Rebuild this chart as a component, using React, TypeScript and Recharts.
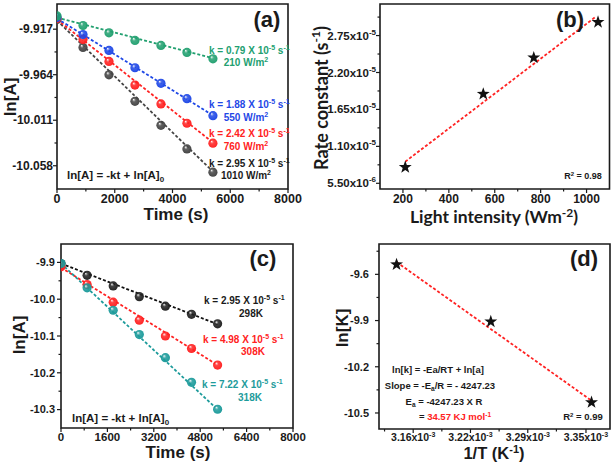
import React from "react";
import { ComposedChart, Scatter, Line, XAxis, YAxis, ReferenceArea } from "recharts";

// (a) ln[A] vs time at four light intensities
const timesA = [0, 900, 1800, 2700, 3600, 4500, 5400];
const lnA210 = [-9.9033, -9.9132, -9.9208, -9.9286, -9.9338, -9.941, -9.9476];
const lnA550 = [-9.905, -9.9225, -9.9389, -9.9568, -9.9729, -9.9887, -10.0063];
const lnA760 = [-9.906, -9.9276, -9.9503, -9.9747, -9.9942, -10.0141, -10.0347];
const lnA1010 = [-9.907, -9.9358, -9.9641, -9.9915, -10.0163, -10.0406, -10.0646];
const fitTimes = [0, 5400];
const fitA210 = [-9.905, -9.947];
const fitA550 = [-9.906, -10.006];
const fitA760 = [-9.907, -10.034];
const fitA1010 = [-9.908, -10.064];
const aXTicks = [0, 2000, 4000, 6000, 8000];
const aXMinor = [1000, 3000, 5000, 7000];
const aYTicks = [-10.058, -10.011, -9.964, -9.917];
const aYMinor = [-10.0345, -9.9875, -9.9405];

// (b) rate constant vs light intensity
const intensity = [210, 550, 770, 1050];
const rateK = [0.79e-5, 1.88e-5, 2.42e-5, 2.95e-5];
const fitIntensity = [210, 1040];
const fitRateK = [0.872e-5, 3.03e-5];
const bXTicks = [200, 400, 600, 800, 1000];
const bXMinor = [300, 500, 700, 900];
const bYTicks = [5.5e-6, 1.1e-5, 1.65e-5, 2.2e-5, 2.75e-5];
const bYMantissa = ["5.50", "1.10", "1.65", "2.20", "2.75"];
const bYExponent = ["-6", "-5", "-5", "-5", "-5"];
const bYMinor = [8.25e-6, 1.375e-5, 1.925e-5, 2.475e-5, 3.025e-5];

// (c) ln[A] vs time at three temperatures
const timesC = [0, 900, 1800, 2700, 3600, 4500, 5400];
const lnC298 = [-9.903, -9.935, -9.964, -9.993, -10.019, -10.041, -10.067];
const lnC308 = [-9.912, -9.96, -10.008, -10.057, -10.1, -10.134, -10.179];
const lnC318 = [-9.903, -9.969, -10.03, -10.096, -10.159, -10.226, -10.299];
const fitC298 = [-9.903, -10.068];
const fitC308 = [-9.914, -10.179];
const fitC318 = [-9.903, -10.3];
const cXTicks = [0, 1600, 3200, 4800, 6400, 8000];
const cXMinor = [800, 2400, 4000, 5600, 7200];
const cYTicks = [-10.3, -10.2, -10.1, -10.0, -9.9];
const cYMinor = [-10.25, -10.15, -10.05, -9.95];

// (d) Arrhenius plot, 1/T in units of 10^-3 K^-1
const invT = [3.145, 3.247, 3.356];
const lnK = [-9.536, -9.907, -10.431];
const fitInvT = [3.145, 3.356];
const fitLnK = [-9.52, -10.42];
const dXTicks = [3.163, 3.225, 3.287, 3.35];
const dXLabels = ["3.16", "3.22", "3.29", "3.35"];
const dXMinor = [3.132, 3.194, 3.256, 3.318];
const dYTicks = [-10.5, -10.2, -9.9, -9.6];
const dYMinor = [-10.35, -10.05, -9.75, -9.45];

const ARIAL = "'Liberation Sans', Arial, sans-serif";
const CALIBRI = "Lato, 'Open Sans', sans-serif";
const INK = "#1a1a1a";

const GREEN = "#22a070";
const BLUE = "#1f48e6";
const RED = "#ff2222";
const GREY = "#444444";
const TEAL = "#1d9b9b";

const pts = (xs: number[], ys: number[]) => xs.map((x, i) => ({ x, y: ys[i] }));

const isMajor = (list: number[], v: number) => list.some((m) => Math.abs(m - v) < 1e-12);

function xTick(majors: number[], fmt: (v: number) => React.ReactNode, fontSize: number) {
  return (p: any) => {
    const v = p.payload.value;
    const major = isMajor(majors, v);
    return (
      <g>
        <line x1={p.x} x2={p.x} y1={p.y} y2={p.y + (major ? 4 : 2.5)} stroke={INK} strokeWidth={1.2} />
        {major && (
          <text x={p.x} y={p.y + 4} dy="0.8em" textAnchor="middle" fontSize={fontSize} fontWeight="bold" fontFamily={ARIAL} fill={INK}>
            {fmt(v)}
          </text>
        )}
      </g>
    );
  };
}

function yTick(majors: number[], fmt: (v: number) => React.ReactNode, fontSize: number, gap: number) {
  return (p: any) => {
    const v = p.payload.value;
    const major = isMajor(majors, v);
    return (
      <g>
        <line x1={p.x} x2={p.x - (major ? 4 : 2.5)} y1={p.y} y2={p.y} stroke={INK} strokeWidth={1.2} />
        {major && (
          <text x={p.x - gap} y={p.y} dy="0.35em" textAnchor="end" fontSize={fontSize} fontWeight="bold" fontFamily={ARIAL} fill={INK}>
            {fmt(v)}
          </text>
        )}
      </g>
    );
  };
}

function Sphere(props: any) {
  const { cx, cy, grad } = props;
  if (cx == null || cy == null) return <g />;
  return <circle cx={cx} cy={cy} r={4.6} fill={`url(#${grad})`} stroke="none" />;
}

function Star(props: any) {
  const { cx, cy } = props;
  if (cx == null || cy == null) return <g />;
  const outer = 6.8;
  const inner = 2.7;
  const p: string[] = [];
  for (let i = 0; i < 10; i++) {
    const r = i % 2 === 0 ? outer : inner;
    const a = -Math.PI / 2 + (i * Math.PI) / 5;
    p.push(`${cx + r * Math.cos(a)},${cy + r * Math.sin(a)}`);
  }
  return <polygon points={p.join(" ")} fill="#111" />;
}

const sphere = (grad: string) => (p: any) => <Sphere {...p} grad={grad} />;

function Frame({ x, y }: { x: number[]; y: number[] }) {
  return (
    <ReferenceArea x1={x[0]} x2={x[1]} y1={y[0]} y2={y[1]} fill="none" stroke={INK} strokeWidth={1.6} ifOverflow="visible" />
  );
}

function Fit({ xs, ys, color }: { xs: number[]; ys: number[]; color: string }) {
  return (
    <Line data={pts(xs, ys)} dataKey="y" stroke={color} strokeWidth={1.8} strokeDasharray="3 2" dot={false} isAnimationActive={false} legendType="none" />
  );
}

function Sup({ children, size = 7, up = 4 }: { children: React.ReactNode; size?: number; up?: number }) {
  return (
    <tspan dy={-up} fontSize={size}>
      {children}
    </tspan>
  );
}

function KText({ x, y, k, color }: { x: number; y: number; k: string; color: string }) {
  return (
    <text x={x} y={y} fill={color} fontSize={10} fontWeight="bold" fontFamily={ARIAL}>
      k = {k} X 10<Sup>-5</Sup>
      <tspan dy={4}> s</tspan>
      <Sup>-1</Sup>
    </text>
  );
}

function SubText({ x, y, color, main, sup }: { x: number; y: number; color: string; main: string; sup?: string }) {
  return (
    <text x={x} y={y} fill={color} fontSize={10} fontWeight="bold" fontFamily={ARIAL} textAnchor="middle">
      {main}
      {sup && <Sup>{sup}</Sup>}
    </text>
  );
}

function RateLaw({ x, y }: { x: number; y: number }) {
  return (
    <text x={x} y={y} fill={INK} fontSize={11.5} fontWeight="bold" fontFamily={ARIAL}>
      ln[A] = -kt + ln[A]
      <tspan dy={3} fontSize={8}>0</tspan>
    </text>
  );
}

const W = 307;
const H = 234;

export default function App() {
  return (
    <div style={{ position: "absolute", left: 0, top: 0, width: 614, height: 468, background: "#fff" }}>
      <svg width={0} height={0} style={{ position: "absolute" }}>
        <defs>
          {[
            ["gGreen", GREEN],
            ["gBlue", BLUE],
            ["gRed", RED],
            ["gGrey", GREY],
            ["gTeal", TEAL],
            ["gBlack", "#222"],
          ].map(([id, c]) => (
            <radialGradient key={id} id={id} cx="50%" cy="50%" r="55%" fx="35%" fy="30%">
              <stop offset="0%" stopColor="#ffffff" />
              <stop offset="35%" stopColor={c} stopOpacity={0.85} />
              <stop offset="100%" stopColor={c} />
            </radialGradient>
          ))}
        </defs>
      </svg>

      {/* (a) */}
      <div style={{ position: "absolute", left: 0, top: 0 }}>
        <ComposedChart width={W} height={H} margin={{ top: 4, right: 19, bottom: 0, left: 0 }}>
          <XAxis type="number" dataKey="x" domain={[0, 8000]} allowDataOverflow ticks={[...aXTicks, ...aXMinor]} interval={0} tickSize={0} tickMargin={0} axisLine={false} tickLine={false} height={45} tick={xTick(aXTicks, (v) => String(v), 12.5)} />
          <YAxis type="number" dataKey="y" domain={[-10.082, -9.891]} allowDataOverflow ticks={[...aYTicks, ...aYMinor]} interval={0} tickSize={0} tickMargin={0} axisLine={false} tickLine={false} width={57} tick={yTick(aYTicks, (v) => v.toFixed(3), 12, 4)} />
          <Frame x={[0, 8000]} y={[-10.082, -9.891]} />
          <Fit xs={fitTimes} ys={fitA1010} color={GREY} />
          <Fit xs={fitTimes} ys={fitA760} color={RED} />
          <Fit xs={fitTimes} ys={fitA550} color={BLUE} />
          <Fit xs={fitTimes} ys={fitA210} color={GREEN} />
          <Scatter data={pts(timesA, lnA1010)} shape={sphere("gGrey")} isAnimationActive={false} />
          <Scatter data={pts(timesA, lnA760)} shape={sphere("gRed")} isAnimationActive={false} />
          <Scatter data={pts(timesA, lnA550)} shape={sphere("gBlue")} isAnimationActive={false} />
          <Scatter data={pts(timesA, lnA210)} shape={sphere("gGreen")} isAnimationActive={false} />
        </ComposedChart>
      </div>

      {/* (b) */}
      <div style={{ position: "absolute", left: W, top: 0 }}>
        <ComposedChart width={W} height={H} margin={{ top: 4, right: 4.5, bottom: 0, left: 0 }}>
          <XAxis type="number" dataKey="x" domain={[100, 1100]} allowDataOverflow ticks={[...bXTicks, ...bXMinor]} interval={0} tickSize={0} tickMargin={0} axisLine={false} tickLine={false} height={45} tick={xTick(bXTicks, (v) => String(v), 12)} />
          <YAxis
            type="number"
            dataKey="y"
            domain={[4.65e-6, 3.22e-5]}
            allowDataOverflow
            ticks={[...bYTicks, ...bYMinor]}
            interval={0}
            tickSize={0}
            tickMargin={0}
            axisLine={false}
            tickLine={false}
            width={73}
            tick={yTick(
              bYTicks,
              (v) => {
                const i = bYTicks.findIndex((t) => Math.abs(t - v) < 1e-12);
                return (
                  <>
                    {bYMantissa[i]}x10
                    <Sup size={8} up={5}>{bYExponent[i]}</Sup>
                  </>
                );
              },
              11.5,
              4,
            )}
          />
          <Frame x={[100, 1100]} y={[4.65e-6, 3.22e-5]} />
          <Fit xs={fitIntensity} ys={fitRateK} color={RED} />
          <Scatter data={pts(intensity, rateK)} shape={(p: any) => <Star {...p} />} isAnimationActive={false} />
        </ComposedChart>
      </div>

      {/* (c) */}
      <div style={{ position: "absolute", left: 0, top: H }}>
        <ComposedChart width={W} height={H} margin={{ top: 10, right: 14, bottom: 0, left: 0 }}>
          <XAxis type="number" dataKey="x" domain={[0, 8000]} allowDataOverflow ticks={[...cXTicks, ...cXMinor]} interval={0} tickSize={0} tickMargin={0} axisLine={false} tickLine={false} height={40} tick={xTick(cXTicks, (v) => String(v), 11.5)} />
          <YAxis type="number" dataKey="y" domain={[-10.35, -9.85]} allowDataOverflow ticks={[...cYTicks, ...cYMinor]} interval={0} tickSize={0} tickMargin={0} axisLine={false} tickLine={false} width={61} tick={yTick(cYTicks, (v) => v.toFixed(1), 11, 6)} />
          <Frame x={[0, 8000]} y={[-10.35, -9.85]} />
          <Fit xs={fitTimes} ys={fitC298} color="#111" />
          <Fit xs={fitTimes} ys={fitC308} color={RED} />
          <Fit xs={fitTimes} ys={fitC318} color={TEAL} />
          <Scatter data={pts(timesC, lnC298)} shape={sphere("gBlack")} isAnimationActive={false} />
          <Scatter data={pts(timesC, lnC308)} shape={sphere("gRed")} isAnimationActive={false} />
          <Scatter data={pts(timesC, lnC318)} shape={sphere("gTeal")} isAnimationActive={false} />
        </ComposedChart>
      </div>

      {/* (d) */}
      <div style={{ position: "absolute", left: W, top: H }}>
        <ComposedChart width={W} height={H} margin={{ top: 10, right: 4, bottom: 0, left: 0 }}>
          <XAxis
            type="number"
            dataKey="x"
            domain={[3.126, 3.376]}
            allowDataOverflow
            ticks={[...dXTicks, ...dXMinor]}
            interval={0}
            tickSize={0}
            tickMargin={0}
            axisLine={false}
            tickLine={false}
            height={39}
            tick={xTick(
              dXTicks,
              (v) => {
                const i = dXTicks.findIndex((t) => Math.abs(t - v) < 1e-12);
                return (
                  <>
                    {dXLabels[i]}x10
                    <Sup size={7} up={4}>-3</Sup>
                  </>
                );
              },
              10.5,
            )}
          />
          <YAxis type="number" dataKey="y" domain={[-10.604, -9.403]} allowDataOverflow ticks={[...dYTicks, ...dYMinor]} interval={0} tickSize={0} tickMargin={0} axisLine={false} tickLine={false} width={72} tick={yTick(dYTicks, (v) => v.toFixed(1), 11, 10)} />
          <Frame x={[3.126, 3.376]} y={[-10.604, -9.403]} />
          <Fit xs={fitInvT} ys={fitLnK} color={RED} />
          <Scatter data={pts(invT, lnK)} shape={(p: any) => <Star {...p} />} isAnimationActive={false} />
        </ComposedChart>
      </div>

      {/* annotations and axis titles */}
      <svg width={614} height={468} style={{ position: "absolute", left: 0, top: 0, pointerEvents: "none" }}>
        <g fontFamily={ARIAL} fontWeight="bold" fill={INK}>
          {/* panel letters */}
          <text x={267} y={27} fontSize={22} textAnchor="middle">(a)</text>
          <text x={570} y={27} fontSize={22} textAnchor="middle">(b)</text>
          <text x={263} y={266} fontSize={22} textAnchor="middle">(c)</text>
          <text x={584} y={266} fontSize={22} textAnchor="middle">(d)</text>

          {/* axis titles */}
          <text transform="translate(10,97) rotate(-90)" fontSize={17} textAnchor="middle" dominantBaseline="central">ln[A]</text>
          <text x={176} y={220} fontSize={17} textAnchor="middle">Time (s)</text>
          <text transform="translate(19,335) rotate(-90)" fontSize={17} textAnchor="middle" dominantBaseline="central">ln[A]</text>
          <text x={178} y={458} fontSize={17} textAnchor="middle">Time (s)</text>
          <text transform="translate(342,328) rotate(-90)" fontSize={17} textAnchor="middle" dominantBaseline="central">ln[K]</text>
          <text x={494} y={459} fontSize={16.5} textAnchor="middle">
            1/T (K<Sup size={11} up={6}>-1</Sup>
            <tspan dy={6}>)</tspan>
          </text>
        </g>
        <g fontFamily={CALIBRI} fontWeight="bold" fill={INK}>
          <text transform="translate(321,98) rotate(-90)" fontSize={18} textAnchor="middle" dominantBaseline="central">
            Rate constant (s<Sup size={12} up={6}>-1</Sup>
            <tspan dy={6}>)</tspan>
          </text>
          <text x={494} y={223} fontSize={17.5} textAnchor="middle">
            Light intensity (Wm<Sup size={12} up={6}>-2</Sup>
            <tspan dy={6}>)</tspan>
          </text>
        </g>

        {/* (a) */}
        <KText x={209} y={54} k="0.79" color={GREEN} />
        <SubText x={246} y={66} color={GREEN} main="210 W/m" sup="2" />
        <KText x={209} y={108} k="1.88" color={BLUE} />
        <SubText x={246} y={121} color={BLUE} main="550 W/m" sup="2" />
        <KText x={209} y={137} k="2.42" color={RED} />
        <SubText x={246} y={150} color={RED} main="760 W/m" sup="2" />
        <KText x={209} y={167} k="2.95" color={INK} />
        <SubText x={246} y={179} color={INK} main="1010 W/m" sup="2" />
        <RateLaw x={67} y={179} />

        {/* (b) */}
        <text x={583} y={179} fontSize={9} fontWeight="bold" fontFamily={ARIAL} textAnchor="middle" fill={INK}>
          R<Sup size={6} up={3}>2</Sup>
          <tspan dy={3}> = 0.98</tspan>
        </text>

        {/* (c) */}
        <KText x={204} y={304} k="2.95" color={INK} />
        <SubText x={251} y={317} color={INK} main="298K" />
        <KText x={203} y={343} k="4.98" color={RED} />
        <SubText x={253} y={355} color={RED} main="308K" />
        <KText x={202} y={388} k="7.22" color={TEAL} />
        <SubText x={250} y={401} color={TEAL} main="318K" />
        <RateLaw x={72} y={422} />

        {/* (d) */}
        <g fontFamily={ARIAL} fontWeight="bold" fontSize={9.5} fill={INK} textAnchor="middle">
          <text x={438} y={373}>ln[k] = -Ea/RT + ln[a]</text>
          <text x={440} y={389}>
            Slope = -E<tspan dy={2} fontSize={6.5}>a</tspan>
            <tspan dy={-2}>/R = - 4247.23</tspan>
          </text>
          <text x={444} y={405}>
            E<tspan dy={2} fontSize={6.5}>a</tspan>
            <tspan dy={-2}> = -4247.23 X R</tspan>
          </text>
          <text x={455} y={420}>
            = <tspan fill={RED}>34.57 KJ mol</tspan>
            <tspan fill={RED} dy={-3} fontSize={6.5}>-1</tspan>
          </text>
          <text x={583} y={420}>
            R<Sup size={6} up={3}>2</Sup>
            <tspan dy={3}> = 0.99</tspan>
          </text>
        </g>
      </svg>
    </div>
  );
}
